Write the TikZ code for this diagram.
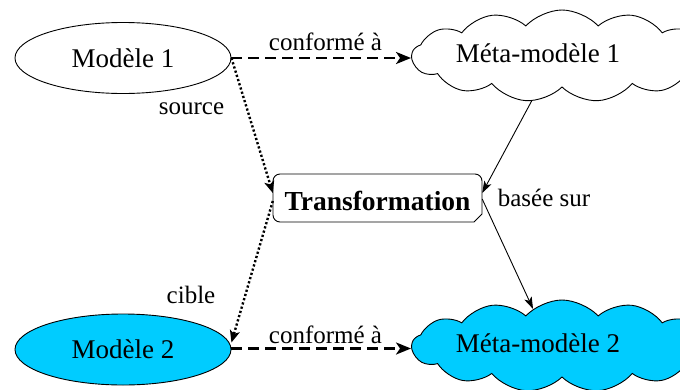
\documentclass[tikz,border=0pt]{standalone}
\usepackage{fontspec}
\setmainfont{Liberation Serif}
\usetikzlibrary{shapes.symbols,shapes.geometric,arrows.meta}
\definecolor{skyfill}{HTML}{00CCFF}
\begin{document}
\begin{tikzpicture}[x=1pt,y=-1pt,
  every node/.style={font=\fontsize{25}{30}\selectfont},
  big/.style={font=\fontsize{27}{32}\selectfont},
  model/.style={ellipse,draw=black,line width=0.9pt,minimum width=216pt,minimum height=71pt,inner sep=0pt,big},
  meta/.style={cloud,draw=black,line width=0.9pt,cloud puffs=13,cloud puff arc=95,cloud ignores aspect,minimum width=300pt,minimum height=92pt,inner sep=0pt},
  lbl/.style={anchor=base,inner sep=0pt},
  conform/.style={line width=2.6pt,dash pattern=on 11pt off 6pt,-{Stealth[length=15pt,width=12pt,inset=4pt]}},
  role/.style={line width=2.4pt,dash pattern=on 2.2pt off 2.2pt,-{Stealth[length=12pt,width=10pt,inset=3pt]}},
  based/.style={line width=0.9pt,-{Stealth[length=12pt,width=8pt,inset=3pt]}}
]
\useasboundingbox (0,0) rectangle (680,389);

% models
\node[model] (m1) at (123,58) {Modèle 1};
\node[model,fill=skyfill] (m2) at (123,349.5) {Modèle 2};

% metamodels (clouds) with their titles
\node[meta] (mm1) at (562,56) {};
\node[meta,fill=skyfill] (mm2) at (562,346) {};
\node[lbl,big] (mm1t) at (538,62) {Méta-modèle 1};
\node[lbl,big] (mm2t) at (538,352) {Méta-modèle 2};

% transformation box: rounded corners, bottom right cut off
\draw[line width=0.9pt] (474,222) -- (482,214) -- (482,181)
  arc[start angle=0,end angle=90,radius=7pt] -- (280,174)
  arc[start angle=90,end angle=180,radius=7pt] -- (273,215)
  arc[start angle=180,end angle=270,radius=7pt] -- cycle;
\node[rectangle,minimum width=209pt,minimum height=48pt,inner sep=0pt] (tr) at (377.5,198) {};
\node[lbl,font=\fontsize{27.5}{32}\selectfont\bfseries] (trt) at (377.5,210) {Transformation};

% conformance arrows
\draw[conform] (m1.east) -- (m1.east -| mm1.west);
\draw[conform] ([yshift=1pt]m2.east) -- ([yshift=1pt]m2.east -| mm2.west);
\node[lbl] (c1) at (325.5,50) {conformé à};
\node[lbl] (c2) at (325.5,343) {conformé à};

% source and target of the transformation
\draw[role] (m1.east) -- ([yshift=5pt]tr.west);
\draw[role] ([yshift=-3pt]tr.west) -- ([yshift=7pt]m2.east);
\node[lbl] (src) at (191.5,114) {source};
\node[lbl] (tgt) at (191,303) {cible};

% transformation based on both metamodels
\draw[based] (mm1.236) -- ([yshift=5pt]tr.east);
\draw[based] ([yshift=-1pt]tr.east) -- (mm2.128);
\node[lbl] (bs) at (544,206) {basée sur};
\end{tikzpicture}
\end{document}
